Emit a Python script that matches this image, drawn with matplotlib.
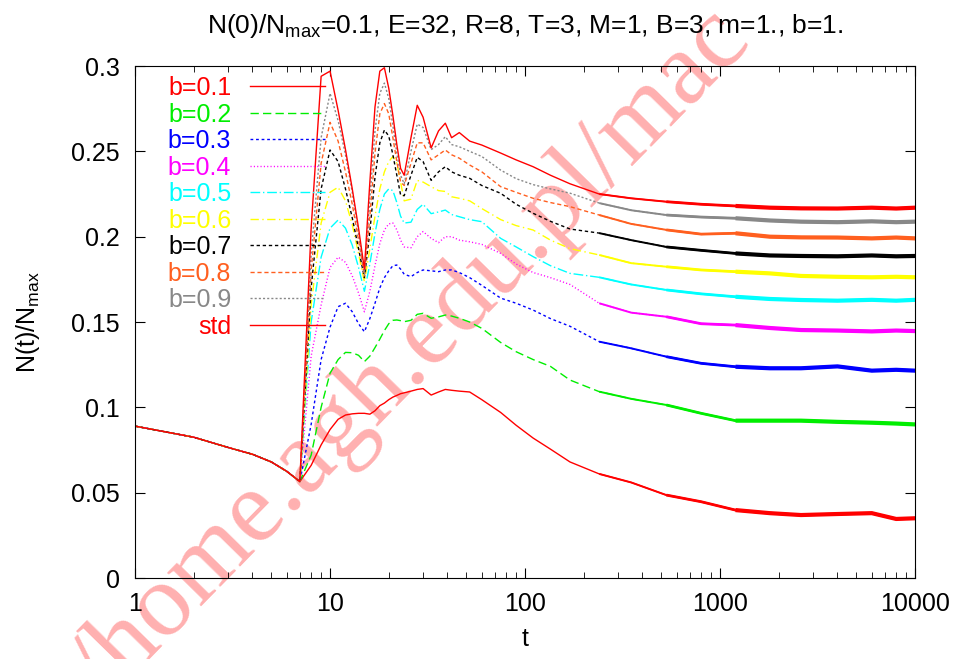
import matplotlib.pyplot as plt

plt.rcParams['font.family'] = ['Liberation Sans', 'DejaVu Sans']
plt.rcParams['mathtext.default'] = 'regular'

# time grid (log spaced, dense around the oscillations)
t = [1, 2, 3, 4, 5, 6, 7, 8, 9, 10, 11, 12, 13, 14, 15, 16, 17, 18, 19, 20,
     21, 22, 23, 24, 26, 28, 30, 33, 36, 39, 42, 46, 52, 60, 75, 90, 110,
     135, 170, 240, 350, 530, 800, 1200, 1800, 2600, 4000, 6000, 8000, 10000]

# common decay before the switch at t=7
start = [0.089, 0.0825, 0.0765, 0.0725, 0.068, 0.0625, 0.0565]

b01 = start + [0.066, 0.078, 0.087, 0.093, 0.0955, 0.0962, 0.0965, 0.0965, 0.096, 0.098,
               0.101, 0.1025, 0.1045, 0.106, 0.107, 0.108, 0.1085,
               0.1095, 0.1105, 0.111, 0.1072, 0.109, 0.1105, 0.110, 0.1095, 0.109, 0.1045,
               0.097, 0.0895, 0.082, 0.0755, 0.068, 0.061, 0.056, 0.0486, 0.0447,
               0.0398, 0.038, 0.0369, 0.0375, 0.038, 0.0346, 0.035]
b02 = start + [0.072, 0.1, 0.12, 0.128, 0.1322, 0.132, 0.1305, 0.1268, 0.13, 0.135,
               0.14, 0.145, 0.149, 0.151, 0.1512, 0.1508, 0.1502,
               0.151, 0.1545, 0.1551, 0.1522, 0.153, 0.1541, 0.1535, 0.1522, 0.150, 0.1463,
               0.138, 0.1326, 0.128, 0.124, 0.116, 0.1092, 0.105, 0.1014, 0.0965,
               0.0922, 0.0922, 0.0922, 0.0915, 0.091, 0.0905, 0.090]
b03 = start + [0.09, 0.128, 0.147, 0.159, 0.161, 0.156, 0.149, 0.1443, 0.152, 0.161,
               0.17, 0.176, 0.18, 0.183, 0.1834, 0.181, 0.178,
               0.1766, 0.179, 0.1805, 0.18, 0.1795, 0.1805, 0.1805, 0.179, 0.176, 0.1715,
               0.164, 0.161, 0.157, 0.152, 0.1475, 0.1385, 0.1346, 0.1297, 0.1258,
               0.1238, 0.1229, 0.1229, 0.124, 0.1215, 0.122, 0.1215]
b04 = start + [0.13, 0.16, 0.182, 0.188, 0.185, 0.177, 0.167, 0.156, 0.168, 0.183,
               0.196, 0.204, 0.2075, 0.208, 0.204, 0.198, 0.194,
               0.1935, 0.2, 0.203, 0.199, 0.1965, 0.2, 0.2, 0.198, 0.197, 0.1955,
               0.1902, 0.184, 0.179, 0.176, 0.172, 0.161, 0.1555, 0.1531, 0.149,
               0.1482, 0.1465, 0.1453, 0.145, 0.1445, 0.145, 0.1447]
b05 = start + [0.15, 0.188, 0.205, 0.2098, 0.205, 0.195, 0.182, 0.168, 0.184, 0.202,
               0.216, 0.225, 0.228, 0.227, 0.22, 0.212, 0.208,
               0.2085, 0.216, 0.219, 0.2135, 0.2145, 0.2156, 0.213, 0.2117, 0.21, 0.2088,
               0.199, 0.194, 0.1883, 0.183, 0.1785, 0.1762, 0.172, 0.1688, 0.1665,
               0.1648, 0.1635, 0.1629, 0.1625, 0.163, 0.1625, 0.163]
b06 = start + [0.16, 0.208, 0.226, 0.229, 0.221, 0.207, 0.19, 0.1736, 0.193, 0.212,
               0.228, 0.238, 0.244, 0.247, 0.243, 0.232, 0.221,
               0.222, 0.233, 0.232, 0.2293, 0.227, 0.2265, 0.2234, 0.2225, 0.221, 0.2165,
               0.21, 0.2065, 0.2039, 0.198, 0.193, 0.1893, 0.1845, 0.1824, 0.1805,
               0.1795, 0.1785, 0.177, 0.1765, 0.1762, 0.1765, 0.1762]
b07 = start + [0.17, 0.228, 0.2508, 0.244, 0.228, 0.211, 0.193, 0.176, 0.203, 0.235,
               0.255, 0.2625, 0.259, 0.248, 0.236, 0.2245, 0.224,
               0.236, 0.2465, 0.244, 0.233, 0.238, 0.241, 0.238, 0.236, 0.2342, 0.230,
               0.2254, 0.219, 0.2137, 0.209, 0.2045, 0.2021, 0.198, 0.194, 0.192,
               0.1902, 0.189, 0.1887, 0.1885, 0.189, 0.1885, 0.1887]
b08 = start + [0.18, 0.243, 0.267, 0.256, 0.238, 0.219, 0.198, 0.177, 0.212, 0.249,
               0.272, 0.278, 0.272, 0.258, 0.244, 0.232, 0.230,
               0.243, 0.255, 0.255, 0.245, 0.248, 0.2508, 0.248, 0.246, 0.242, 0.238,
               0.2293, 0.226, 0.2225, 0.220, 0.2176, 0.2127, 0.2075, 0.204, 0.2015,
               0.202, 0.200, 0.1996, 0.1995, 0.199, 0.1995, 0.199]
b09 = start + [0.19, 0.258, 0.284, 0.268, 0.248, 0.226, 0.202, 0.178, 0.222, 0.262,
               0.284, 0.290, 0.281, 0.265, 0.249, 0.236, 0.231,
               0.250, 0.266, 0.264, 0.251, 0.254, 0.2586, 0.254, 0.2527, 0.250, 0.247,
               0.239, 0.234, 0.2305, 0.228, 0.2255, 0.2197, 0.2155, 0.2127, 0.2115,
               0.2108, 0.2095, 0.2088, 0.2085, 0.209, 0.2085, 0.2088]
std = start + [0.205, 0.294, 0.297, 0.274, 0.251, 0.228, 0.205, 0.181, 0.232, 0.276,
               0.297, 0.299, 0.287, 0.271, 0.254, 0.240, 0.236,
               0.258, 0.277, 0.270, 0.252, 0.262, 0.2665, 0.258, 0.261, 0.256, 0.2537,
               0.249, 0.245, 0.241, 0.236, 0.231, 0.225, 0.2225, 0.2205, 0.219,
               0.218, 0.217, 0.2166, 0.2165, 0.217, 0.2165, 0.217]

labels = ['b=0.1', 'b=0.2', 'b=0.3', 'b=0.4', 'b=0.5', 'b=0.6', 'b=0.7', 'b=0.8', 'b=0.9', 'std']
curves = [b01, b02, b03, b04, b05, b06, b07, b08, b09, std]
colors = ['#ff0000', '#00ee00', '#0000ff', '#ff00ff', '#00ffff', '#ffff00', '#000000',
          '#ff5f1f', '#888888', '#ff0000']
styles = ['-', (0, (6, 3)), (0, (2, 2)), (0, (0.8, 1.6)), (0, (7, 2, 1, 2)),
          (0, (6, 2.5, 1, 2.5)), (0, (2.4, 2)), (0, (3, 2)), (0, (1.5, 1.5)), '-']

fig = plt.figure(figsize=(9.55, 6.59), dpi=100)
ax = fig.add_axes([0.1414, 0.1229, 0.8168, 0.7769])
ax.patch.set_visible(False)

# watermark behind everything
fig.text(0.112, -0.066, '/home.agh.edu.pl/mac', rotation=45.6, rotation_mode='anchor',
         ha='left', va='baseline', fontsize=75, family='Liberation Serif',
         color='#ffb0b0', zorder=-1)

handles = []
# noisy long-time part looks like a solid band getting thicker
bands = [(240, 1.4), (530, 2.0), (1200, 3.0)]
for lab, y, c, ls in zip(labels, curves, colors, styles):
    h, = ax.plot(t, y, color=c, ls=ls, lw=1.0, label=lab)
    for t0, w in bands:
        idx = [i for i, v in enumerate(t) if v >= t0]
        ax.plot([t[i] for i in idx], [y[i] for i in idx], color=c, lw=w, solid_capstyle='butt')
    handles.append(h)

ax.set_xscale('log')
ax.set_xlim(1, 10000)
ax.set_ylim(0, 0.3)
ax.set_xticks([1, 10, 100, 1000, 10000])
ax.set_xticklabels(['1', '10', '100', '1000', '10000'])
ax.set_yticks([0, 0.05, 0.1, 0.15, 0.2, 0.25, 0.3])
ax.set_yticklabels(['0', '0.05', '0.1', '0.15', '0.2', '0.25', '0.3'])
ax.tick_params(which='both', direction='in', top=True, right=True, labelsize=18)
ax.tick_params(which='major', length=7)
ax.tick_params(which='minor', length=4)
ax.tick_params(axis='x', pad=10)
ax.tick_params(axis='y', pad=11)

ax.set_title('N(0)/N$_{max}$=0.1, E=32, R=8, T=3, M=1, B=3, m=1., b=1.', fontsize=19, pad=24)
ax.set_xlabel('t', fontsize=18, labelpad=8)
ax.set_ylabel('N(t)/N$_{max}$', fontsize=18, labelpad=21)

ax.legend(handles=handles, loc='upper right', bbox_to_anchor=(0.25, 0.99), frameon=False,
          markerfirst=False, labelcolor='linecolor', fontsize=18, handlelength=3.0,
          handletextpad=0.75, labelspacing=0.1, borderaxespad=0, borderpad=0.2)

plt.savefig('out.png', dpi=100)
